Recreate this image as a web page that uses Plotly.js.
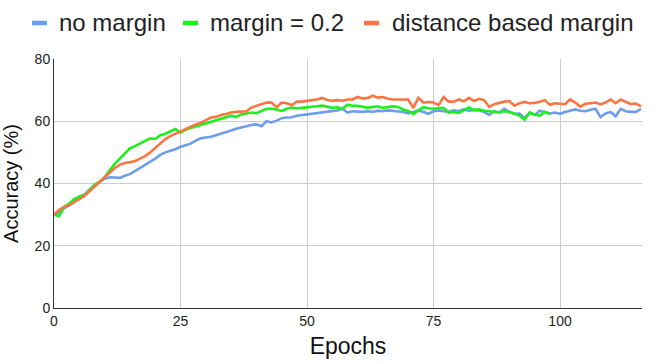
<!DOCTYPE html>
<html>
<head>
<meta charset="utf-8">
<script src="https://cdn.plot.ly/plotly-3.0.1.min.js"></script>
<style>
  html, body { margin: 0; padding: 0; background: #fff; }
  #chart { width: 664px; height: 364px; }
</style>
</head>
<body>
<div id="chart"></div>
<script>
// accuracy per epoch
var noMargin = [
  30, 30.5, 32, 33, 34.5, 35.5, 36.5, 38, 39.5, 40.5,
  41.5, 42, 42, 41.8, 42.5, 43, 44, 45, 45.8, 46.8,
  48, 49.2, 50, 50.5, 51, 51.8, 52.3, 52.8, 53.8, 54.5,
  54.8, 55, 55.5, 56, 56.3, 57, 57.6, 58, 58.5, 58.8,
  59, 58.4, 60, 59.6, 60.2, 61, 61.2, 61.3, 61.8,
  62, 62.4, 62.5, 62.8, 63, 63, 63.2, 63.5, 64, 62.8,
  63.2, 63, 63, 63.2, 63, 63.4, 63.2, 63.5, 63.4,
  63.2, 63, 62.5, 63, 63.5, 63, 62.4, 63.2, 63.5, 63.2,
  63, 63.5, 63.3, 63.8, 63.4, 63.6, 63.5, 63, 62, 63.2,
  62.8, 64, 63, 62.4, 62.5, 61, 62.8, 62, 63.4, 63,
  62.5, 62.8, 62.4, 63, 63.5, 63.8, 63.4, 63.2, 63.7, 64,
  61.3, 62.5, 63, 61.6, 64, 63.2, 63, 63, 64
];
var margin02 = [
  30, 29.5, 32.5, 33.5, 35, 35.8, 36.2, 38, 39.5, 40.5,
  42, 44.2, 46.3, 48, 49.5, 51.3, 52, 52.8, 53.5, 54.5,
  54.3, 55.5, 56, 56.7, 57.5, 56.3, 57.3, 57.8, 58.3, 58.8,
  59.3, 60, 60.5, 61, 61.3, 61.8, 61.4, 62.2, 62.5, 62.8,
  62.6, 63.4, 64, 64, 63.8, 63.3, 64, 64.4, 64.2,
  64.3, 64.4, 64.6, 64.8, 65, 64.6, 64.3, 64.5, 64, 65.3,
  65, 65, 64.6, 64.3, 64.6, 64.8, 64.3, 64.6, 64.8,
  64.6, 63.8, 63.3, 62.3, 63.5, 64.5, 64.2, 64, 64.2, 64.3,
  62.8, 63, 62.7, 63.5, 64.4, 63.6, 63.8, 63.4, 63.2, 63,
  62.9, 63.2, 63, 62.4, 61.8, 60.5, 62.8, 62.2, 61.8, 63,
  62.4
];
var distMargin = [
  30, 31.5, 32.5, 33, 34, 35, 36, 37.5, 39, 40.5,
  42, 43.6, 45, 46, 46.6, 46.8, 47.2, 48, 48.8, 50,
  51.5, 53, 54.3, 55.2, 56, 56.8, 57.6, 58.2, 59, 59.5,
  60.4, 61.2, 61.4, 62, 62.3, 62.8, 63, 63, 63.2, 64.4,
  65, 65.5, 66, 66, 64.5, 66, 65.8, 65.2, 66.3,
  66.3, 66.5, 66.6, 67, 67.5, 66.8, 66.6, 66.8, 66.6, 67,
  67, 67.8, 67.3, 67.5, 68.2, 67.6, 67.8, 67.2, 67,
  67, 67.2, 67, 64.3, 67.5, 66, 66.2, 66, 65.2, 67.8,
  66.3, 66.3, 67, 66.4, 67.5, 66.5, 67.2, 66.8, 64.6, 65.5,
  66, 66.3, 66.5, 65, 65.8, 66.2, 65.8, 65.9, 66.3, 66.8,
  65.3, 65.8, 65.6, 65.5, 67, 66, 64.7, 65.6, 65.8, 66,
  65.4, 66, 67, 65.8, 67, 66.3, 65.5, 65.7, 64.8
];
var seriesNames = ['no margin', 'margin = 0.2', 'distance based margin'];
var seriesColors = ['#6d9eeb', '#1cf01c', '#fb7442'];
var xTicks = [0, 25, 50, 75, 100];
var yTicks = [0, 20, 40, 60, 80];

function epochs(arr) {
  var e = [];
  for (var i = 0; i < arr.length; i++) e.push(i);
  return e;
}

var allSeries = [noMargin, margin02, distMargin];
var data = allSeries.map(function (s, k) {
  return {
    x: epochs(s),
    y: s,
    type: 'scatter',
    mode: 'lines',
    name: seriesNames[k],
    line: {color: seriesColors[k], width: 2.6}
  };
});

// plot box in pixels
var W = 664, H = 364;
var M = {l: 54, r: 22, t: 59, b: 56};
var plotW = W - M.l - M.r, plotH = H - M.t - M.b;
function px2x(px) { return (px - M.l) / plotW; }
function py2y(py) { return (H - M.b - py) / plotH; }

// legend drawn by hand: short swatch + label, in a row at the top
var legendY = 23;
var swatchX = [32, 183, 364];
var labelX = [57, 208, 390];
var shapes = [], annotations = [];
seriesNames.forEach(function (name, k) {
  shapes.push({
    type: 'line', xref: 'paper', yref: 'paper',
    x0: px2x(swatchX[k]), x1: px2x(swatchX[k] + 15),
    y0: py2y(legendY), y1: py2y(legendY),
    line: {color: seriesColors[k], width: 4.5}
  });
  annotations.push({
    text: name, xref: 'paper', yref: 'paper',
    x: px2x(labelX[k]), y: py2y(legendY),
    xanchor: 'left', yanchor: 'middle',
    showarrow: false,
    font: {size: 24, color: '#222'}
  });
});

var font = 'Arial, "Liberation Sans", sans-serif';
var layout = {
  width: W,
  height: H,
  margin: M,
  paper_bgcolor: '#fff',
  plot_bgcolor: '#fff',
  font: {family: font, color: '#222'},
  showlegend: false,
  shapes: shapes,
  annotations: annotations,
  xaxis: {
    range: [0, 116.2],
    tickvals: xTicks,
    showgrid: true,
    gridcolor: '#cccccc',
    zeroline: false,
    showline: true,
    linecolor: '#333',
    linewidth: 1,
    ticks: '',
    tickfont: {size: 14, color: '#222'},
    title: {text: 'Epochs', font: {size: 23, color: '#111'}, standoff: 10}
  },
  yaxis: {
    range: [0, 80],
    tickvals: yTicks,
    showgrid: true,
    gridcolor: '#cccccc',
    zeroline: false,
    showline: true,
    linecolor: '#333',
    linewidth: 1,
    ticks: '',
    tickfont: {size: 14, color: '#222'},
    title: {text: 'Accuracy (%)', font: {size: 20, color: '#111'}, standoff: 10}
  }
};

Plotly.newPlot('chart', data, layout, {displayModeBar: false, staticPlot: true});
</script>
</body>
</html>
